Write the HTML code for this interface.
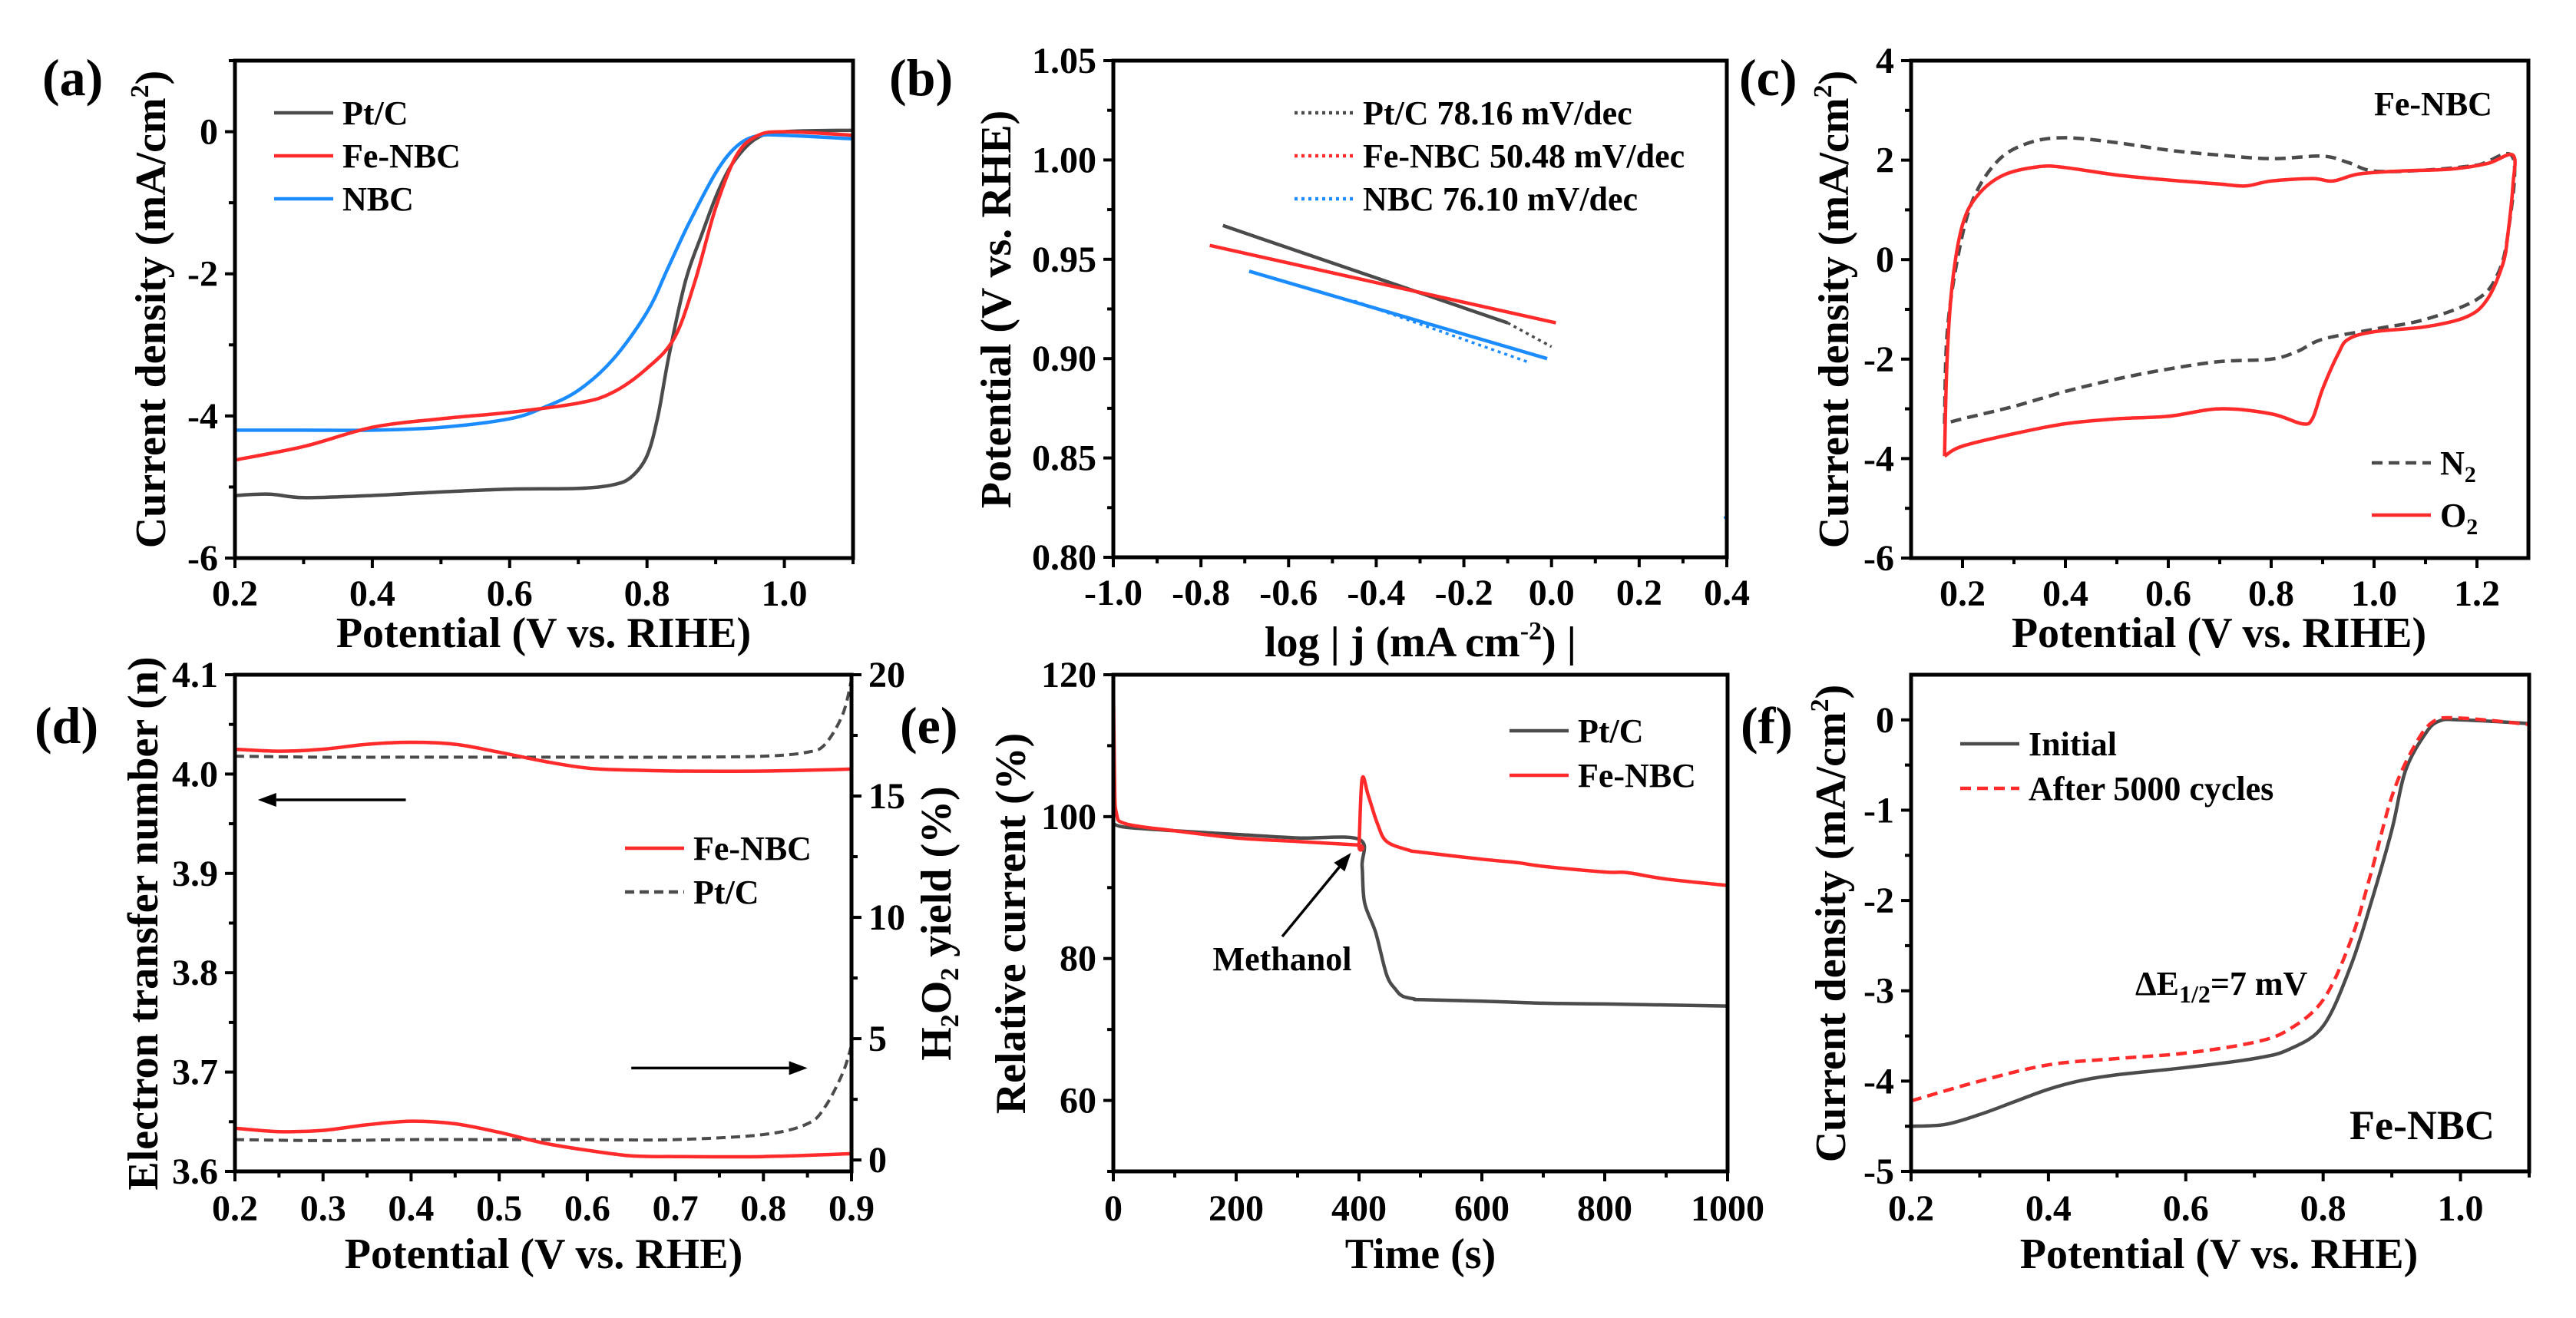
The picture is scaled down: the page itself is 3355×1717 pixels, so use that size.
<!DOCTYPE html>
<html><head><meta charset="utf-8">
<style>
html,body{margin:0;padding:0;background:#fff;}
svg{display:block;font-family:"Liberation Serif",serif;font-weight:bold;}
</style></head>
<body>
<svg id="fig" xmlns="http://www.w3.org/2000/svg" width="3355" height="1717" viewBox="0 0 3355 1717"></svg>
<script>
// ---- Panel (a) LSV ----
const aPtX=[0.2,0.25,0.3,0.4,0.5,0.6,0.7,0.75,0.777,0.8,0.816,0.832,0.856,0.88,0.904,0.928,0.96,1.0,1.1];
const aPtY=[-5.12,-5.1,-5.15,-5.12,-5.07,-5.03,-5.02,-4.97,-4.86,-4.56,-4.0,-3.15,-2.1,-1.44,-0.83,-0.4,-0.09,0,0.02];
const aFeX=[0.2,0.3,0.4,0.5,0.6,0.7,0.75,0.8,0.84,0.87,0.9,0.93,0.96,1.0,1.1];
const aFeY=[-4.62,-4.43,-4.16,-4.04,-3.95,-3.82,-3.67,-3.33,-2.9,-2.1,-1.07,-0.34,-0.06,0,-0.05];
const aNbX=[0.2,0.3,0.4,0.5,0.6,0.65,0.7,0.75,0.8,0.83,0.86,0.9,0.93,0.96,1.0,1.1];
const aNbY=[-4.2,-4.2,-4.2,-4.16,-4.04,-3.88,-3.64,-3.21,-2.54,-1.93,-1.31,-0.58,-0.21,-0.06,-0.05,-0.1];
// ---- Panel (b) Tafel ----
const bPtX=[-0.75,-0.1];  const bPtY=[0.967,0.918];
const bPtFitX=[-0.1,0.0]; const bPtFitY=[0.918,0.906];
const bFeX=[-0.78,0.01];  const bFeY=[0.957,0.918];
const bNbX=[-0.69,-0.01]; const bNbY=[0.944,0.900];
const bNbFitX=[-0.45,-0.05]; const bNbFitY=[0.929,0.898];
// ---- Panel (c) CV ----
const cO2X=[0.165,0.17,0.18,0.2,0.23,0.28,0.35,0.4,0.5,0.6,0.7,0.75,0.8,0.88,0.92,0.97,1.05,1.15,1.22,1.27,1.27,1.26,1.25,1.22,1.18,1.1,1.0,0.95,0.93,0.9,0.88,0.86,0.8,0.7,0.6,0.5,0.4,0.3,0.2,0.165];
const cO2Y=[-3.95,-2,-0.5,0.7,1.3,1.7,1.87,1.85,1.7,1.6,1.52,1.48,1.58,1.63,1.58,1.72,1.78,1.82,1.93,2.1,1.5,0.5,-0.1,-0.8,-1.15,-1.35,-1.45,-1.6,-1.9,-2.6,-3.2,-3.3,-3.1,-3.0,-3.15,-3.2,-3.3,-3.5,-3.75,-3.95];
const cN2X=[0.165,0.17,0.19,0.22,0.27,0.33,0.4,0.5,0.6,0.7,0.8,0.9,0.95,1.0,1.1,1.2,1.27,1.26,1.24,1.2,1.1,1.0,0.9,0.85,0.8,0.7,0.6,0.5,0.4,0.3,0.2,0.165];
const cN2Y=[-3.3,-1.5,0,1.2,2.0,2.35,2.45,2.35,2.2,2.1,2.03,2.08,1.95,1.78,1.8,1.9,2.05,0.5,-0.3,-0.8,-1.2,-1.4,-1.6,-1.85,-2.0,-2.05,-2.2,-2.4,-2.65,-2.95,-3.2,-3.3];
// ---- Panel (d) RRDE ----
const dX=[0.2,0.25,0.3,0.35,0.4,0.45,0.5,0.55,0.6,0.65,0.7,0.8,0.9];
const dFeN=[4.025,4.023,4.025,4.03,4.032,4.03,4.022,4.013,4.006,4.004,4.003,4.003,4.005];
const dFeH=[1.31,1.17,1.22,1.45,1.6,1.49,1.14,0.7,0.4,0.17,0.14,0.14,0.26];
const dPtX=[0.2,0.3,0.4,0.5,0.6,0.7,0.8,0.85,0.87,0.89,0.9];
const dPtN=[4.018,4.017,4.017,4.017,4.017,4.017,4.018,4.022,4.03,4.06,4.095];
const dPtH=[0.84,0.8,0.84,0.84,0.84,0.84,1.05,1.49,2.19,3.58,4.72];
// ---- Panel (e) methanol ----
const eFeT=[0,2,5,20,100,200,300,398,400,405,415,430,445,480,500,600,659,700,800,837,900,1000];
const eFeV=[120,105,100.5,99,98,97,96.5,96,96,105.3,103,99,96.5,95.3,95,94,93.5,93,92.2,92.1,91.2,90.3];
const ePtT=[0,20,100,200,300,400,405,409,427,445,460,471,490,500,600,700,800,1000];
const ePtV=[99,98.5,98,97.5,97,96.8,93,87.9,83.7,77.7,75.6,74.7,74.3,74.2,74,73.7,73.6,73.3];
// ---- Panel (f) durability ----
const fInX=[0.2,0.25,0.3,0.35,0.4,0.45,0.5,0.6,0.7,0.75,0.8,0.84,0.87,0.9,0.92,0.95,0.97,1.0,1.1];
const fInY=[-4.5,-4.48,-4.37,-4.23,-4.09,-3.99,-3.93,-3.85,-3.75,-3.65,-3.39,-2.73,-2.02,-1.22,-0.56,-0.14,-0.01,0,-0.04];
const fAfX=[0.2,0.3,0.4,0.5,0.6,0.7,0.75,0.8,0.84,0.87,0.9,0.93,0.96,1.0,1.1];
const fAfY=[-4.22,-4.0,-3.82,-3.75,-3.69,-3.57,-3.43,-3.1,-2.45,-1.69,-0.85,-0.33,-0.02,0.02,-0.05];

const svg=document.getElementById('fig');
const NS='http://www.w3.org/2000/svg';
function mk(tag,attrs,parent){const e=document.createElementNS(NS,tag);for(const k in attrs)e.setAttribute(k,attrs[k]);(parent||svg).appendChild(e);return e;}
function panel(L,R,T,B,x0,x1,y0,y1){return {L,R,T,B,sx:v=>L+(v-x0)/(x1-x0)*(R-L),sy:v=>B-(v-y0)/(y1-y0)*(B-T)};}
const GRAY='#4b4b4b',RED='#ff2a2a',BLUE='#1a8cff';

function frame(p,name){
  const r=mk('rect',{x:p.L,y:p.T,width:p.R-p.L,height:p.B-p.T,fill:'none',stroke:'#000','stroke-width':5});
  
  
}
function xticks(p,vals,labels,minor,name,ly){
  const g=mk('g',{});
  
  
  vals.forEach((v,i)=>{const x=p.sx(v);mk('line',{x1:x,x2:x,y1:p.B,y2:p.B+13,stroke:'#000','stroke-width':4},g);
    const t=mk('text',{x:x,y:p.B+ly,'font-size':48,'text-anchor':'middle'},g);t.textContent=labels[i];});
  minor.forEach(v=>{const x=p.sx(v);mk('line',{x1:x,x2:x,y1:p.B,y2:p.B+8,stroke:'#000','stroke-width':4},g);});
}
function yticks(p,vals,labels,minor,name,sy,side){
  sy=sy||p.sy;side=side||'left';
  const g=mk('g',{});
  
  
  const X=side==='left'?p.L:p.R, d=side==='left'?-1:1;
  vals.forEach((v,i)=>{const y=sy(v);mk('line',{x1:X,x2:X+d*13,y1:y,y2:y,stroke:'#000','stroke-width':4},g);
    const t=mk('text',{x:X+d*22,y:y+16,'font-size':48,'text-anchor':side==='left'?'end':'start'},g);t.textContent=labels[i];});
  minor.forEach(v=>{const y=sy(v);mk('line',{x1:X,x2:X+d*8,y1:y,y2:y,stroke:'#000','stroke-width':4},g);});
}
function smoothPath(pts){
  if(pts.length<3)return pts.map((q,i)=>(i?'L':'M')+q[0].toFixed(1)+' '+q[1].toFixed(1)).join(' ');
  let d='M'+pts[0][0].toFixed(1)+' '+pts[0][1].toFixed(1);
  for(let i=0;i<pts.length-1;i++){
    const p0=pts[Math.max(0,i-1)],p1=pts[i],p2=pts[i+1],p3=pts[Math.min(pts.length-1,i+2)];
    const c1=[p1[0]+(p2[0]-p0[0])/6,p1[1]+(p2[1]-p0[1])/6];
    const c2=[p2[0]-(p3[0]-p1[0])/6,p2[1]-(p3[1]-p1[1])/6];
    d+=' C'+c1[0].toFixed(1)+' '+c1[1].toFixed(1)+' '+c2[0].toFixed(1)+' '+c2[1].toFixed(1)+' '+p2[0].toFixed(1)+' '+p2[1].toFixed(1);
  }
  return d;
}
function series(p,xs,ys,color,dash,name,sy,w){
  sy=sy||p.sy;
  const pts=xs.map((x,i)=>[p.sx(x),sy(ys[i])]);
  const e=mk('path',{d:smoothPath(pts),fill:'none',stroke:color,'stroke-width':w||4.5,'stroke-linejoin':'round','stroke-dasharray':dash||'none'});
  
  
}
function text(x,y,str,size,name,anchor,rot){
  const t=mk('text',{x:x,y:y,'font-size':size,'text-anchor':anchor||'start'});
  if(rot)t.setAttribute('transform','rotate(-90 '+x+' '+y+')');
  t.innerHTML=str;
  
  
  return t;
}
function legend(x,y,color,dash,label,name){
  const l=mk('line',{x1:x,x2:x+77,y1:y,y2:y,stroke:color,'stroke-width':4.5,'stroke-dasharray':dash||'none'});
  
  
  text(x+89,y+15,label,44,name+'-label');
}
function arrow(x1,y1,x2,y2,name){
  const g=mk('g',{});
  
  
  const a=Math.atan2(y2-y1,x2-x1),h=24,w=9;
  const bx=x2-h*Math.cos(a),by=y2-h*Math.sin(a);
  mk('line',{x1:x1,y1:y1,x2:bx,y2:by,stroke:'#000','stroke-width':3.5},g);
  mk('polygon',{points:`${x2},${y2} ${bx-w*Math.sin(a)},${by+w*Math.cos(a)} ${bx+w*Math.sin(a)},${by-w*Math.cos(a)}`,fill:'#000'},g);
}

// Panel a
const pa=panel(306,1111,79,727,0.2,1.1,-6,1);
series(pa,aPtX,aPtY,GRAY,null,'pt-c-lsv-line');
series(pa,aNbX,aNbY,BLUE,null,'nbc-lsv-line');
series(pa,aFeX,aFeY,RED,null,'fe-nbc-lsv-line');
frame(pa,'panel-a');
xticks(pa,[0.2,0.4,0.6,0.8,1.0],['0.2','0.4','0.6','0.8','1.0'],[0.3,0.5,0.7,0.9,1.1],'panel-a',62);
yticks(pa,[-6,-4,-2,0],['-6','-4','-2','0'],[-5,-3,-1,1],'panel-a');
text(708,843,'Potential (V vs. RIHE)',56,'panel-a-x-title','middle');
text(215,403,'Current density (mA/cm<tspan font-size="34" dy="-22">2</tspan><tspan dy="22">)</tspan>',56,'panel-a-y-title','middle',true);
legend(357,147,GRAY,null,'Pt/C','legend-pt-c');
legend(357,203,RED,null,'Fe-NBC','legend-fe-nbc');
legend(357,259,BLUE,null,'NBC','legend-nbc');
text(55,124,'(a)',68,'panel-a-label');

// Panel b
const pb=panel(1450,2249,79,726,-1.0,0.4,0.80,1.05);
series(pb,bPtX,bPtY,GRAY,null,'pt-c-tafel-line');
series(pb,bPtFitX,bPtFitY,GRAY,'4 5','pt-c-tafel-fit',null,3.5);
series(pb,bFeX,bFeY,RED,null,'fe-nbc-tafel-line');
series(pb,bNbX,bNbY,BLUE,null,'nbc-tafel-line');
series(pb,bNbFitX,bNbFitY,BLUE,'4 5','nbc-tafel-fit',null,3.5);
const sd=mk('circle',{cx:pb.sx(0.4)-2,cy:pb.sy(0.82),r:2,fill:BLUE});


frame(pb,'panel-b');
xticks(pb,[-1.0,-0.8,-0.6,-0.4,-0.2,0.0,0.2,0.4],['-1.0','-0.8','-0.6','-0.4','-0.2','0.0','0.2','0.4'],[-0.9,-0.7,-0.5,-0.3,-0.1,0.1,0.3],'panel-b',62);
yticks(pb,[0.80,0.85,0.90,0.95,1.00,1.05],['0.80','0.85','0.90','0.95','1.00','1.05'],[0.825,0.875,0.925,0.975,1.025],'panel-b');
text(1850,855,'log | j (mA cm<tspan font-size="34" dy="-22">-2</tspan><tspan dy="22">) |</tspan>',56,'panel-b-x-title','middle');
text(1316,403,'Potential (V vs. RHE)',56,'panel-b-y-title','middle',true);
legend(1686,147,GRAY,'4 5','Pt/C 78.16 mV/dec','legend-pt-c-tafel');
legend(1686,203,RED,'4 5','Fe-NBC 50.48 mV/dec','legend-fe-nbc-tafel');
legend(1686,259,BLUE,'4 5','NBC 76.10 mV/dec','legend-nbc-tafel');
text(1158,124,'(b)',68,'panel-b-label');

// Panel c
const pc=panel(2489,3293,79,727,0.1,1.3,-6,4);
series(pc,cN2X,cN2Y,GRAY,'14 8','n2-cv-line');
series(pc,cO2X,cO2Y,RED,null,'o2-cv-line');
frame(pc,'panel-c');
xticks(pc,[0.2,0.4,0.6,0.8,1.0,1.2],['0.2','0.4','0.6','0.8','1.0','1.2'],[0.3,0.5,0.7,0.9,1.1],'panel-c',62);
yticks(pc,[-6,-4,-2,0,2,4],['-6','-4','-2','0','2','4'],[-5,-3,-1,1,3],'panel-c');
text(2890,843,'Potential (V vs. RIHE)',56,'panel-c-x-title','middle');
text(2407,403,'Current density (mA/cm<tspan font-size="34" dy="-22">2</tspan><tspan dy="22">)</tspan>',56,'panel-c-y-title','middle',true);
text(3092,150,'Fe-NBC',44,'panel-c-sample-label');
legend(3089,603,GRAY,'14 8','N<tspan font-size="30" dy="10">2</tspan>','legend-n2');
legend(3089,671,RED,null,'O<tspan font-size="30" dy="10">2</tspan>','legend-o2');
text(2265,124,'(c)',68,'panel-c-label');

// Panel d
const pd=panel(306,1109,879,1526,0.2,0.9,3.6,4.1);
const sy2=v=>pd.B-(v-(-0.47))/(20-(-0.47))*(pd.B-pd.T);
series(pd,dPtX,dPtN,GRAY,'12 7','pt-c-n-line',null,4);
series(pd,dPtX,dPtH,GRAY,'12 7','pt-c-h2o2-line',sy2,4);
series(pd,dX,dFeN,RED,null,'fe-nbc-n-line');
series(pd,dX,dFeH,RED,null,'fe-nbc-h2o2-line',sy2);
frame(pd,'panel-d');
xticks(pd,[0.2,0.3,0.4,0.5,0.6,0.7,0.8,0.9],['0.2','0.3','0.4','0.5','0.6','0.7','0.8','0.9'],[0.25,0.35,0.45,0.55,0.65,0.75,0.85],'panel-d',64);
yticks(pd,[3.6,3.7,3.8,3.9,4.0,4.1],['3.6','3.7','3.8','3.9','4.0','4.1'],[3.65,3.75,3.85,3.95,4.05],'panel-d');
yticks(pd,[0,5,10,15,20],['0','5','10','15','20'],[2.5,7.5,12.5,17.5],'panel-d',sy2,'right');
arrow(pd.sx(0.394),pd.sy(3.974),pd.sx(0.226),pd.sy(3.974),'arrow-left-axis');
arrow(pd.sx(0.65),pd.sy(3.704),pd.sx(0.85),pd.sy(3.704),'arrow-right-axis');
legend(814,1105,RED,null,'Fe-NBC','legend-fe-nbc-d');
legend(814,1162,GRAY,'12 7','Pt/C','legend-pt-c-d');
text(708,1652,'Potential (V vs. RHE)',56,'panel-d-x-title','middle');
text(205,1203,'Electron transfer number (n)',56,'panel-d-y-title','middle',true);
text(1238,1203,'H<tspan font-size="34" dy="10">2</tspan><tspan dy="-10">O</tspan><tspan font-size="34" dy="10">2</tspan><tspan dy="-10"> yield (%)</tspan>',56,'panel-d-y2-title','middle',true);
text(45,968,'(d)',68,'panel-d-label');

// Panel e
const pe=panel(1450,2250,879,1526,0,1000,50,120);
series(pe,ePtT,ePtV,GRAY,null,'pt-c-methanol-line');
series(pe,eFeT,eFeV,RED,null,'fe-nbc-methanol-line');
frame(pe,'panel-e');
xticks(pe,[0,200,400,600,800,1000],['0','200','400','600','800','1000'],[100,300,500,700,900],'panel-e',64);
yticks(pe,[60,80,100,120],['60','80','100','120'],[50,70,90,110],'panel-e');
arrow(pe.sx(275),pe.sy(83.1),pe.sx(387),pe.sy(94.9),'methanol-arrow');
text(pe.sx(275),pe.sy(80.1)+16,'Methanol',44,'methanol-annotation','middle');
legend(1966,952,GRAY,null,'Pt/C','legend-pt-c-e');
legend(1966,1010,RED,null,'Fe-NBC','legend-fe-nbc-e');
text(1850,1652,'Time (s)',56,'panel-e-x-title','middle');
text(1335,1203,'Relative current (%)',56,'panel-e-y-title','middle',true);
text(1172,968,'(e)',68,'panel-e-label');

// Panel f
const pf=panel(2489,3294,879,1526,0.2,1.1,-5,0.5);
series(pf,fInX,fInY,GRAY,null,'initial-line');
series(pf,fAfX,fAfY,RED,'14 8','after-5000-cycles-line');
frame(pf,'panel-f');
xticks(pf,[0.2,0.4,0.6,0.8,1.0],['0.2','0.4','0.6','0.8','1.0'],[0.3,0.5,0.7,0.9,1.1],'panel-f',64);
yticks(pf,[-5,-4,-3,-2,-1,0],['-5','-4','-3','-2','-1','0'],[-4.5,-3.5,-2.5,-1.5,-0.5],'panel-f');
legend(2553,969,GRAY,null,'Initial','legend-initial');
legend(2553,1027,RED,'14 8','After 5000 cycles','legend-after-cycles');
text(2781,1296,'ΔE<tspan font-size="32" dy="10">1/2</tspan><tspan dy="-10">=7 mV</tspan>',44,'delta-e-annotation');
text(3060,1484,'Fe-NBC',54,'panel-f-sample-label');
text(2890,1652,'Potential (V vs. RHE)',56,'panel-f-x-title','middle');
text(2403,1203,'Current density (mA/cm<tspan font-size="34" dy="-22">2</tspan><tspan dy="22">)</tspan>',56,'panel-f-y-title','middle',true);
text(2267,968,'(f)',68,'panel-f-label');
</script>
</body></html>
